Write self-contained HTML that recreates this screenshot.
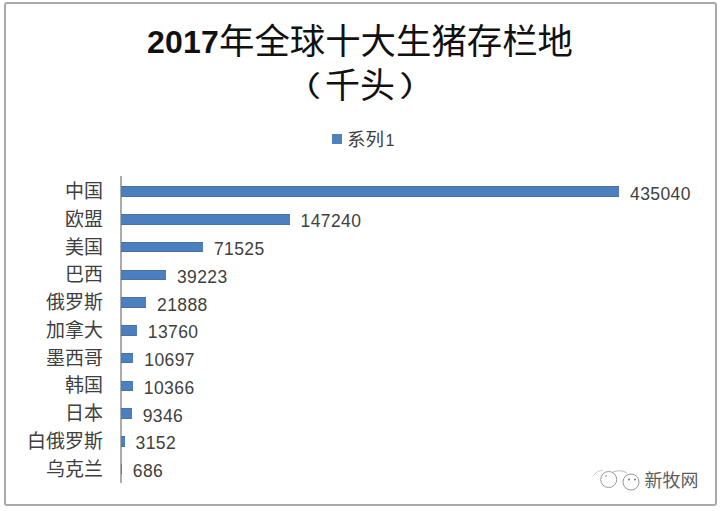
<!DOCTYPE html>
<html><head><meta charset="utf-8"><style>
*{margin:0;padding:0;box-sizing:border-box}
html,body{width:720px;height:511px;background:#fff;overflow:hidden}
body{position:relative;font-family:"Liberation Sans","Noto Sans CJK SC",sans-serif;color:#404040}
.frame{position:absolute;left:4px;top:2px;width:713px;height:504px;border:2px solid #a9a9a9;border-radius:3px}
.t1{position:absolute;left:0;width:720px;top:18.5px;text-align:center;font-size:35.4px;line-height:40px;color:#111;white-space:nowrap}
.t1 b{font-family:"Liberation Sans",sans-serif;font-weight:bold;font-size:32px;letter-spacing:0.2px;position:relative;top:-1px}
.t1 span{font-family:"Noto Sans CJK SC",sans-serif;font-weight:400}
.t2{position:absolute;left:0;width:720px;top:63px;text-align:center;font-size:35px;line-height:40px;color:#111;font-family:"Noto Sans CJK SC",sans-serif;white-space:nowrap}
.t2 i{font-style:normal;display:inline-block;transform:scale(1.12,0.81);position:relative;top:1.5px}
.leg{position:absolute;left:332px;top:134px;width:10px;height:10px;background:#4f81bd}
.legt{position:absolute;left:347px;top:126.5px;font-size:18.5px;line-height:22px;white-space:nowrap;font-family:"Noto Sans CJK SC",sans-serif}
.legt u{text-decoration:none;font-family:"Liberation Sans",sans-serif;font-size:16px;margin-left:1.5px}
.axis{position:absolute;left:120px;top:176px;width:2px;height:307px;background:#ababab}
.bar{position:absolute;left:121px;height:10.6px;background:#4a80c0;border-top:1px solid #4f709a;border-bottom:1px solid #4f709a}
.cat{position:absolute;right:617px;font-size:19px;line-height:22px;white-space:nowrap;font-family:"Noto Sans CJK SC",sans-serif}
.val{position:absolute;font-size:17.5px;line-height:20px;white-space:nowrap;letter-spacing:0.4px}
.wm{position:absolute;left:644.5px;top:468px;font-size:18px;line-height:22px;color:#5e5e5e;font-family:"Noto Sans CJK SC",sans-serif;font-weight:400;text-shadow:0 0 2px #fff}
</style></head><body>
<div class="frame"></div>
<div class="t1"><b>2017</b><span>年全球十大生猪存栏地</span></div>
<div class="t2"><i style="margin-right:5.5px">（</i>千头<i style="margin-left:5.5px">）</i></div>
<div class="leg"></div>
<div class="legt">系列<u>1</u></div>
<div class="axis"></div>
<div class="bar" style="top:186.40px;width:498.00px"></div>
<div class="cat" style="top:179.10px">中国</div>
<div class="val" style="top:183.70px;left:630.00px">435040</div>
<div class="bar" style="top:214.15px;width:168.55px"></div>
<div class="cat" style="top:206.85px">欧盟</div>
<div class="val" style="top:211.45px;left:300.55px">147240</div>
<div class="bar" style="top:241.90px;width:81.88px"></div>
<div class="cat" style="top:234.60px">美国</div>
<div class="val" style="top:239.20px;left:213.88px">71525</div>
<div class="bar" style="top:269.65px;width:44.90px"></div>
<div class="cat" style="top:262.35px">巴西</div>
<div class="val" style="top:266.95px;left:176.90px">39223</div>
<div class="bar" style="top:297.40px;width:25.06px"></div>
<div class="cat" style="top:290.10px">俄罗斯</div>
<div class="val" style="top:294.70px;left:157.06px">21888</div>
<div class="bar" style="top:325.15px;width:15.75px"></div>
<div class="cat" style="top:317.85px">加拿大</div>
<div class="val" style="top:322.45px;left:147.75px">13760</div>
<div class="bar" style="top:352.90px;width:12.25px"></div>
<div class="cat" style="top:345.60px">墨西哥</div>
<div class="val" style="top:350.20px;left:144.25px">10697</div>
<div class="bar" style="top:380.65px;width:11.87px"></div>
<div class="cat" style="top:373.35px">韩国</div>
<div class="val" style="top:377.95px;left:143.87px">10366</div>
<div class="bar" style="top:408.40px;width:10.70px"></div>
<div class="cat" style="top:401.10px">日本</div>
<div class="val" style="top:405.70px;left:142.70px">9346</div>
<div class="bar" style="top:436.15px;width:3.61px"></div>
<div class="cat" style="top:428.85px">白俄罗斯</div>
<div class="val" style="top:433.45px;left:135.61px">3152</div>
<div class="bar" style="top:463.90px;width:0.79px"></div>
<div class="cat" style="top:456.60px">乌克兰</div>
<div class="val" style="top:461.20px;left:132.79px">686</div>
<svg style="position:absolute;left:585px;top:462px" width="60" height="32" viewBox="0 0 60 32">
<g fill="none" stroke="#999" stroke-width="1">
<circle cx="23.7" cy="17.5" r="8"/>
<circle cx="46" cy="20" r="8"/>
<path d="M28 10 Q36 7 42 11" stroke="#bbb"/>
<path d="M8 14 Q12 8 18 8" stroke="#ccc"/>
</g>
<g fill="#777"><circle cx="44" cy="17.5" r="1"/><circle cx="50" cy="17.5" r="1"/><circle cx="21" cy="14" r="0.8"/></g>
</svg>
<div class="wm">新牧网</div>
</body></html>
